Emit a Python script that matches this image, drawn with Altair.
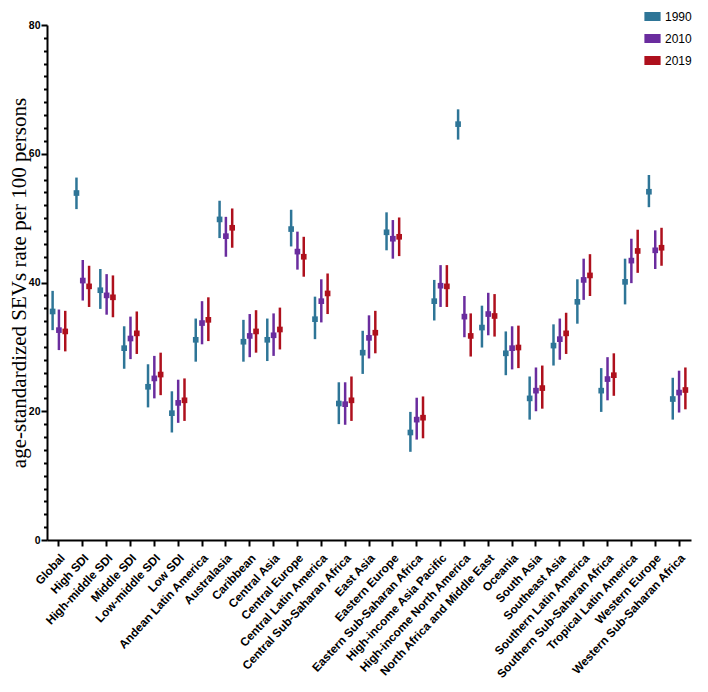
import altair as alt
import pandas as pd

regions = ["Global", "High SDI", "High-middle SDI", "Middle SDI", "Low-middle SDI", "Low SDI",
           "Andean Latin America", "Australasia", "Caribbean", "Central Asia", "Central Europe",
           "Central Latin America", "Central Sub-Saharan Africa", "East Asia", "Eastern Europe",
           "Eastern Sub-Saharan Africa", "High-income Asia Pacific", "High-income North America",
           "North Africa and Middle East", "Oceania", "South Asia", "Southeast Asia",
           "Southern Latin America", "Southern Sub-Saharan Africa", "Tropical Latin America",
           "Western Europe", "Western Sub-Saharan Africa"]

years = ["1990", "2010", "2019"]

val_1990 = [35.5, 53.9, 38.8, 29.8, 23.8, 19.7, 31.1, 49.8, 30.8, 31.1, 48.3, 34.3, 21.2, 29.1,
            47.8, 16.7, 37.1, 64.6, 33.0, 29.0, 22.0, 30.2, 37.0, 23.2, 40.1, 54.1, 21.9]
lo_1990 = [32.6, 51.4, 35.9, 26.6, 20.6, 16.7, 27.7, 46.9, 27.7, 27.8, 45.6, 31.2, 18.0, 25.8,
           45.0, 13.7, 34.1, 62.2, 29.9, 25.6, 18.7, 27.1, 33.6, 19.9, 36.6, 51.7, 18.7]
hi_1990 = [38.7, 56.3, 42.1, 33.2, 27.3, 23.1, 34.4, 52.7, 34.2, 34.4, 51.3, 37.8, 24.5, 32.5,
           50.9, 19.9, 40.4, 66.9, 36.4, 32.4, 25.4, 33.5, 40.5, 26.7, 43.7, 56.7, 25.2]

val_2010 = [32.6, 40.3, 38.0, 31.3, 25.1, 21.3, 33.7, 47.2, 31.7, 31.8, 44.8, 37.1, 21.1, 31.4,
            46.8, 18.7, 39.5, 34.7, 35.1, 29.8, 23.2, 31.2, 40.4, 25.0, 43.4, 45.0, 22.9]
lo_2010 = [29.5, 37.2, 35.0, 28.1, 22.0, 18.2, 30.4, 44.0, 28.4, 28.6, 42.0, 33.8, 17.9, 28.2,
           43.7, 15.6, 36.2, 31.5, 31.8, 26.5, 20.0, 28.0, 37.3, 21.7, 39.9, 42.1, 19.8]
hi_2010 = [35.8, 43.5, 41.3, 34.7, 28.6, 24.9, 37.1, 50.2, 35.1, 35.2, 47.9, 40.5, 24.5, 34.9,
           49.7, 22.1, 42.7, 37.9, 38.4, 33.2, 26.8, 34.4, 43.7, 28.4, 46.8, 48.1, 26.3]

val_2019 = [32.4, 39.4, 37.7, 32.1, 25.7, 21.7, 34.2, 48.5, 32.4, 32.7, 44.0, 38.3, 21.7, 32.2,
            47.1, 19.0, 39.4, 31.7, 34.8, 29.9, 23.6, 32.1, 41.1, 25.6, 44.9, 45.4, 23.3]
lo_2019 = [29.3, 36.2, 34.6, 28.9, 22.5, 18.5, 30.9, 45.4, 29.1, 29.6, 40.9, 35.1, 18.5, 29.0,
           44.1, 15.8, 36.2, 28.5, 31.6, 26.7, 20.4, 28.9, 37.9, 22.4, 41.5, 42.6, 20.3]
hi_2019 = [35.6, 42.6, 41.1, 35.5, 29.1, 25.1, 37.7, 51.5, 35.7, 36.1, 47.1, 41.4, 25.4, 35.6,
           50.1, 22.3, 42.7, 35.2, 38.2, 33.3, 27.1, 35.3, 44.4, 29.0, 48.2, 48.5, 26.8]

y_ticks = list(range(0, 81, 2))

colors = ["#2E7597", "#6A2C9E", "#AE101D"]

series = {"1990": (val_1990, lo_1990, hi_1990),
          "2010": (val_2010, lo_2010, hi_2010),
          "2019": (val_2019, lo_2019, hi_2019)}
rows = []
for yr in years:
    v, lo, hi = series[yr]
    for i, r in enumerate(regions):
        rows.append({"region": r, "year": yr, "yr_fill": yr, "val": v[i], "lo": lo[i], "hi": hi[i]})
df = pd.DataFrame(rows)

FONT = "Liberation Sans"

x_enc = alt.X("region:N", sort=regions, title=None,
              scale=alt.Scale(paddingInner=0, paddingOuter=0),
              axis=alt.Axis(labelAngle=-47, labelAlign="right", labelBaseline="top",
                            labelFont=FONT, labelFontWeight="bold", labelFontSize=11.8,
                            labelColor="black", labelPadding=6, labelOverlap=False,
                            tickSize=6, tickWidth=2, tickColor="black",
                            domainWidth=2, domainColor="black", grid=False))
xoff = alt.XOffset("year:N", sort=years, scale=alt.Scale(paddingOuter=0.39, paddingInner=0))

y_axis = alt.Axis(values=y_ticks,
                  labelExpr="datum.value % 20 === 0 ? datum.label : ''",
                  tickSize={"condition": {"test": "datum.value % 20 === 0", "value": 6}, "value": 3.5},
                  tickWidth=2, tickColor="black", domainWidth=2, domainColor="black",
                  labelFont=FONT, labelFontWeight="bold", labelFontSize=10.5, labelColor="black",
                  labelPadding=1, labelOverlap=False, labelSeparation=0, grid=False,
                  title="age-standardized SEVs rate per 100 persons",
                  titleFont="Liberation Serif", titleFontWeight="normal", titleFontSize=21,
                  titleColor="black", titleX=-28, titleY=257.5, titleAngle=-90,
                  titleAlign="center", titleBaseline="middle")

y_scale = alt.Scale(domain=[0, 80], nice=False)

rules = alt.Chart(df).mark_rule(strokeWidth=2.5).encode(
    x=x_enc, xOffset=xoff,
    y=alt.Y("lo:Q", scale=y_scale, axis=y_axis),
    y2="hi:Q",
    stroke=alt.Stroke("year:N", sort=years,
                      scale=alt.Scale(domain=years, range=colors),
                      legend=alt.Legend(title=None, orient="none", legendX=597, legendY=-17,
                                        symbolType="M-1,-0.5H1V0.5H-1Z", symbolSize=196,
                                        symbolStrokeWidth=2.2, symbolFillColor="white",
                                        labelFont=FONT, labelFontSize=12, labelColor="black",
                                        labelOffset=4, rowPadding=5, padding=0)),
)

points = alt.Chart(df).mark_square(size=32, filled=True, opacity=1).encode(
    x=x_enc, xOffset=xoff,
    y=alt.Y("val:Q", scale=y_scale, axis=y_axis),
    fill=alt.Fill("yr_fill:N", sort=years, scale=alt.Scale(domain=years, range=colors), legend=None),
)

chart = alt.layer(rules, points).properties(
    width=644, height=515, autosize="none",
    padding={"left": 39, "top": 17, "right": 9, "bottom": 160},
).configure_view(stroke=None).configure_axisY(labelOverlap=False)

chart.save("out.html", embed_options={"renderer": "svg", "actions": False})
